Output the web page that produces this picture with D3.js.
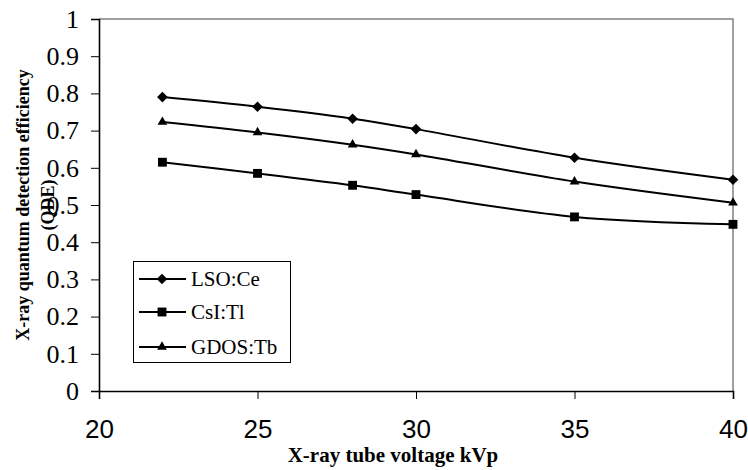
<!DOCTYPE html>
<html>
<head>
<meta charset="utf-8">
<script src="https://cdn.jsdelivr.net/npm/d3@7"></script>
<style>
  body { margin: 0; background: #fff; }
  svg { display: block; }
</style>
</head>
<body>
<div id="chart"></div>
<script>
// chart size
const width = 748;
const height = 470;
const margin = {left: 99, right: 15, top: 19, bottom: 79};

// data
const kvp = [22, 25, 28, 30, 35, 40];
const lsoCe = [0.790, 0.764, 0.732, 0.704, 0.627, 0.568];
const csiTl = [0.615, 0.585, 0.553, 0.528, 0.468, 0.448];
const gdosTb = [0.723, 0.695, 0.662, 0.636, 0.563, 0.506];
const seriesNames = ["LSO:Ce", "CsI:Tl", "GDOS:Tb"];
const xTicks = [20, 25, 30, 35, 40];
const yTicks = [0, 0.1, 0.2, 0.3, 0.4, 0.5, 0.6, 0.7, 0.8, 0.9, 1];

const series = [
  {name: seriesNames[0], values: lsoCe, symbol: d3.symbolDiamond2, size: 72},
  {name: seriesNames[1], values: csiTl, symbol: d3.symbolSquare2, size: 100},
  {name: seriesNames[2], values: gdosTb, symbol: d3.symbolTriangle2, size: 68}
];

const serif = "Liberation Serif, Times New Roman, serif";

const svg = d3.select("#chart")
  .append("svg")
  .attr("width", width)
  .attr("height", height);

// scales
const x = d3.scaleLinear()
  .domain([20, 40])
  .range([margin.left, width - margin.right]);

const y = d3.scaleLinear()
  .domain([0, 1])
  .range([height - margin.bottom, margin.top]);

// plot area border (top + right are grey)
svg.append("path")
  .attr("d", `M${x(20)},${y(1)}H${x(40)}V${y(0)}`)
  .attr("fill", "none")
  .attr("stroke", "#808080")
  .attr("stroke-width", 1.5);

// y axis
const yAxis = svg.append("g")
  .attr("transform", `translate(${x(20)},0)`)
  .call(d3.axisLeft(y).tickValues(yTicks).tickSize(8).tickPadding(12)
    .tickFormat(d => d === 0 || d === 1 ? d : d.toFixed(1)));
yAxis.select(".domain").attr("stroke", "#000").attr("stroke-width", 1.6);
yAxis.selectAll(".tick line").attr("stroke", "#000");
yAxis.selectAll("text")
  .attr("font-family", serif)
  .attr("font-size", "26px")
  .attr("fill", "#000");

// x axis
const xAxis = svg.append("g")
  .attr("transform", `translate(0,${y(0)})`)
  .call(d3.axisBottom(x).tickValues(xTicks).tickSize(8).tickPadding(21));
xAxis.select(".domain").attr("stroke", "#000").attr("stroke-width", 1.6);
xAxis.selectAll(".tick line").attr("stroke", "#000");
xAxis.selectAll("text")
  .attr("font-family", "Liberation Sans, Arial, sans-serif")
  .attr("font-size", "26px")
  .attr("fill", "#000");

// axis titles
svg.append("text")
  .attr("x", 393)
  .attr("y", 462)
  .attr("text-anchor", "middle")
  .attr("font-family", serif)
  .attr("font-weight", "bold")
  .attr("font-size", "21px")
  .text("X-ray tube voltage kVp");

const yTitle = svg.append("text")
  .attr("transform", "translate(29,205) rotate(-90)")
  .attr("text-anchor", "middle")
  .attr("font-family", serif)
  .attr("font-weight", "bold")
  .attr("font-size", "18px");
yTitle.append("tspan").attr("x", 0).attr("dy", 0).text("X-ray quantum detection efficiency");
yTitle.append("tspan").attr("x", 0).attr("dy", 25).text("(QDE)");

// lines
const line = d3.line()
  .x((d, i) => x(kvp[i]))
  .y(d => y(d))
  .curve(d3.curveCatmullRom.alpha(0.5));

series.forEach(s => {
  svg.append("path")
    .datum(s.values)
    .attr("fill", "none")
    .attr("stroke", "#000")
    .attr("stroke-width", 2)
    .attr("d", line);

  svg.selectAll(null)
    .data(s.values)
    .enter()
    .append("path")
      .attr("d", d3.symbol().type(s.symbol).size(s.size))
      .attr("transform", (d, i) => `translate(${x(kvp[i])},${y(d)})`)
      .attr("fill", "#000");
});

// legend
const legend = svg.append("g");
legend.append("rect")
  .attr("x", 133.5)
  .attr("y", 261.5)
  .attr("width", 157)
  .attr("height", 101)
  .attr("fill", "#fff")
  .attr("stroke", "#000")
  .attr("stroke-width", 1);

const legendRows = [279, 312, 347];
series.forEach((s, i) => {
  const ly = legendRows[i];
  legend.append("line")
    .attr("x1", 139).attr("x2", 186)
    .attr("y1", ly).attr("y2", ly)
    .attr("stroke", "#000")
    .attr("stroke-width", 2);
  legend.append("path")
    .attr("d", d3.symbol().type(s.symbol).size(s.size)())
    .attr("transform", `translate(162,${ly})`)
    .attr("fill", "#000");
  legend.append("text")
    .attr("x", 191)
    .attr("y", ly + 7)
    .attr("font-family", serif)
    .attr("font-size", "21px")
    .text(s.name);
});
</script>
</body>
</html>
